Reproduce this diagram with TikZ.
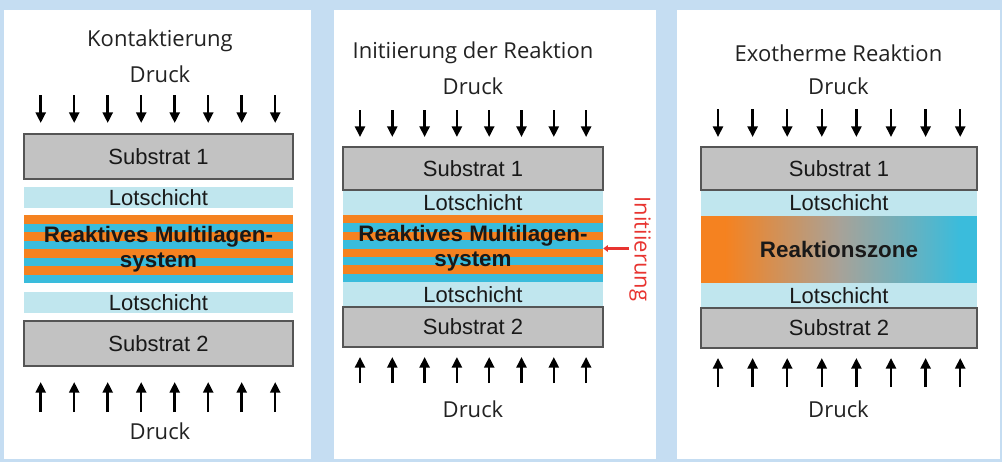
\documentclass[tikz,border=0pt]{standalone}
\usepackage{fontspec}
\setmainfont{Open Sans}
\newfontfamily\arialfont{Liberation Sans}
\usetikzlibrary{arrows.meta}
\definecolor{bgblue}{RGB}{197,221,242}
\definecolor{subgray}{RGB}{194,194,194}
\definecolor{subborder}{RGB}{85,85,85}
\definecolor{lotblue}{RGB}{192,230,238}
\definecolor{mlorange}{RGB}{245,130,32}
\definecolor{mlblue}{RGB}{58,188,220}
\definecolor{rzgray}{RGB}{168,162,152}
\definecolor{titlecol}{RGB}{34,34,34}
\definecolor{initred}{RGB}{232,52,48}
\tikzset{
  panel/.style={fill=white,draw=none},
  title/.style={text=titlecol,font=\fontsize{16.5}{19}\selectfont,inner sep=0pt},
  substr/.style={draw=subborder,line width=1.1pt,fill=subgray,inner sep=0pt,
    font=\arialfont\fontsize{16.5}{19}\selectfont,text=black!90},
  lot/.style={fill=lotblue,draw=none,inner sep=0pt,
    font=\arialfont\fontsize{16.5}{19}\selectfont,text=black!90},
  mltext/.style={inner sep=0pt,align=center,
    font=\arialfont\bfseries\fontsize{16.8}{18.75}\selectfont,text=black!90},
  press/.style={line width=1.9pt,-{Triangle[width=7.5pt,length=8pt]}},
  redarrow/.style={initred,line width=2.6pt,-{Triangle[width=5pt,length=3.5pt]}}
}
\begin{document}
\begin{tikzpicture}[x=0.75pt,y=-0.75pt]
\useasboundingbox (0,0) rectangle (1002,462);
\fill[bgblue] (0,0) rectangle (1002,462);
% panels
\fill[panel] (4,10) rectangle (311,459);
\fill[panel] (334,10) rectangle (656,459);
\fill[panel] (677,10) rectangle (1000,459);

% ---------- Panel 1 ----------
\node[title] (t1) at (160,41) {Kontaktierung};
\node[title] (d1a) at (160,74) {Druck};
\foreach \x in {40.7,74.2,107.7,141.2,174.7,208.2,241.7,275.2}
  \draw[press] (\x,95) -- (\x,123);
\node[substr,minimum width=269*0.75pt,minimum height=45*0.75pt] (s11) at (158.5,156.5) {Substrat 1};
\node[lot,minimum width=269*0.75pt,minimum height=21*0.75pt] (l11) at (158.5,197.5) {Lotschicht};
\fill[mlblue] (24,215) rectangle (293,283);
\foreach \i in {0,...,3}
  \fill[mlorange] (24,{215+2*\i*8.5}) rectangle (293,{215+(2*\i+1)*8.5});
\node[mltext,minimum width=269*0.75pt,minimum height=68*0.75pt] (m1) at (158.5,249) {Reaktives Multilagen-\\system};
\node[lot,minimum width=269*0.75pt,minimum height=21*0.75pt] (l12) at (158.5,302.5) {Lotschicht};
\node[substr,minimum width=269*0.75pt,minimum height=45*0.75pt] (s12) at (158.5,343.5) {Substrat 2};
\foreach \x in {40.7,74.2,107.7,141.2,174.7,208.2,241.7,275.2}
  \draw[press] (\x,412) -- (\x,382);
\node[title] (d1b) at (160,431) {Druck};

% ---------- Panel 2 ----------
\node[title] (t2) at (473,53) {Initiierung der Reaktion};
\node[title] (d2a) at (473,86) {Druck};
\foreach \x in {360,392.3,424.6,456.9,489.2,521.5,553.8,586.1}
  \draw[press] (\x,110) -- (\x,137);
\node[lot,minimum width=260*0.75pt,minimum height=25*0.75pt] (l21) at (473,202.5) {Lotschicht};
\node[lot,minimum width=260*0.75pt,minimum height=25*0.75pt] (l22) at (473,294.5) {Lotschicht};
\fill[mlblue] (343,215) rectangle (603,282);
\foreach \i in {0,...,3}
  \fill[mlorange] (343,{215+2*\i*8.375}) rectangle (603,{215+(2*\i+1)*8.375});
\node[mltext,minimum width=260*0.75pt,minimum height=67*0.75pt] (m2) at (473,248.5) {Reaktives Multilagen-\\system};
\node[substr,minimum width=260*0.75pt,minimum height=43*0.75pt] (s21) at (473,168.5) {Substrat 1};
\node[substr,minimum width=260*0.75pt,minimum height=40*0.75pt] (s22) at (473,327) {Substrat 2};
\foreach \x in {360,392.3,424.6,456.9,489.2,521.5,553.8,586.1}
  \draw[press] (\x,383) -- (\x,357);
\node[title] (d2b) at (473,409) {Druck};
\coordinate (rstart) at (629,248.5);
\draw[redarrow] (rstart) -- (m2.east);
\node[title,text=initred,rotate=-90] (init) at (640,249) {Initiierung};

% ---------- Panel 3 ----------
\node[title] (t3) at (838.5,53) {Exotherme Reaktion};
\node[title] (d3a) at (838.5,86) {Druck};
\foreach \x in {718,752.6,787.2,821.8,856.4,891,925.6,960.2}
  \draw[press] (\x,109) -- (\x,137);
\fill[mlorange] (701,215) rectangle (726,284);
\shade[left color=mlorange,right color=rzgray] (725.5,215) rectangle (839.5,284);
\shade[left color=rzgray,right color=mlblue] (839,215) rectangle (960.5,284);
\fill[mlblue] (960,215) rectangle (977,284);
\node[lot,minimum width=276*0.75pt,minimum height=26*0.75pt] (l31) at (839,203) {Lotschicht};
\node[lot,minimum width=276*0.75pt,minimum height=25*0.75pt] (l32) at (839,295.5) {Lotschicht};
\node[mltext,minimum width=276*0.75pt,minimum height=67*0.75pt] (rz) at (839,249.5) {Reaktionszone};
\node[substr,minimum width=276*0.75pt,minimum height=43*0.75pt] (s31) at (839,168.5) {Substrat 1};
\node[substr,minimum width=276*0.75pt,minimum height=40*0.75pt] (s32) at (839,328) {Substrat 2};
\foreach \x in {718,752.6,787.2,821.8,856.4,891,925.6,960.2}
  \draw[press] (\x,387) -- (\x,358);
\node[title] (d3b) at (838.5,409) {Druck};
\end{tikzpicture}
\end{document}
